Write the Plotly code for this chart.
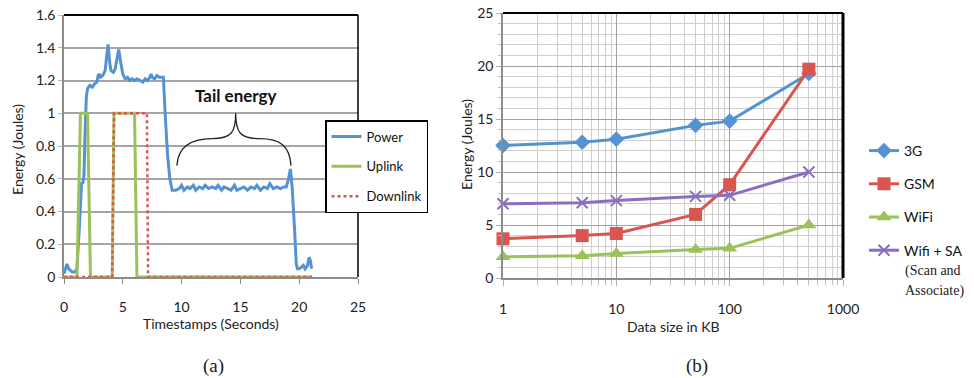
import plotly.graph_objects as go

W, H = 974, 378

# ---------------- data: panel (a) ----------------
t_power = [0, 0.15, 0.25, 0.4, 0.55, 0.7, 0.9, 1.1, 1.3, 1.5, 1.6, 1.7, 1.8, 1.9, 2.0, 2.2, 2.4,
           2.6, 2.8, 2.9, 3.0, 3.1, 3.3, 3.5, 3.6, 3.75, 3.9, 4.0, 4.2, 4.35, 4.5, 4.65, 4.8,
           5.0, 5.2, 5.4, 5.6, 5.8, 6.0, 6.2, 6.5, 6.7, 6.9, 7.1, 7.3, 7.4, 7.5, 7.7, 7.9,
           8.1, 8.3, 8.45, 8.6, 8.8, 9.0, 9.2, 9.5, 9.8, 10.0, 10.2, 10.5, 10.7, 11.0, 11.2,
           11.5, 11.8, 12.0, 12.3, 12.6, 12.9, 13.1, 13.4, 13.6, 13.9, 14.2, 14.5, 14.7, 15.0,
           15.3, 15.6, 15.9, 16.2, 16.4, 16.7, 17.0, 17.3, 17.5, 17.8, 18.1, 18.4, 18.7, 18.9,
           19.1, 19.25, 19.4, 19.6, 19.75, 19.85, 20.0, 20.2, 20.35, 20.5, 20.7, 20.85, 20.95,
           21.05]
power = [0.02, 0.06, 0.08, 0.05, 0.04, 0.03, 0.03, 0.05, 0.30, 0.58, 0.57, 0.62, 0.90, 1.10,
         1.15, 1.17, 1.16, 1.18, 1.19, 1.23, 1.24, 1.22, 1.23, 1.26, 1.33, 1.42, 1.30, 1.26,
         1.25, 1.27, 1.33, 1.39, 1.32, 1.24, 1.21, 1.22, 1.20, 1.21, 1.20, 1.21, 1.20, 1.19,
         1.21, 1.20, 1.22, 1.24, 1.22, 1.21, 1.23, 1.22, 1.22, 1.22, 1.00, 0.75, 0.60, 0.53,
         0.53, 0.54, 0.56, 0.53, 0.55, 0.54, 0.56, 0.53, 0.55, 0.54, 0.56, 0.54, 0.55, 0.54,
         0.56, 0.53, 0.55, 0.54, 0.53, 0.56, 0.53, 0.54, 0.55, 0.53, 0.55, 0.54, 0.56, 0.53,
         0.55, 0.54, 0.57, 0.54, 0.55, 0.54, 0.55, 0.55, 0.60, 0.66, 0.55, 0.30, 0.08, 0.05,
         0.05, 0.06, 0.07, 0.05, 0.07, 0.12, 0.10, 0.05]

t_uplink = [0, 1.1, 1.4, 2.0, 2.25, 4.1, 4.25, 6.0, 6.2, 21.1]
uplink = [0, 0, 1, 1, 0, 0, 1, 1, 0, 0]

t_downlink = [0, 4.1, 4.25, 7.05, 7.15, 21.1]
downlink = [0, 0, 1, 1, 0, 0]

# ---------------- data: panel (b) ----------------
data_kb = [1, 5, 10, 50, 100, 500]
e_3g = [12.5, 12.8, 13.1, 14.4, 14.8, 19.3]
e_gsm = [3.7, 4.0, 4.2, 6.0, 8.8, 19.7]
e_wifi = [2.0, 2.1, 2.3, 2.7, 2.8, 5.0]
e_wifi_sa = [7.0, 7.1, 7.3, 7.7, 7.8, 10.0]

FONT = "Lato"
BLUE = "#5592d2"
GREEN = "#9bc25a"
RED = "#d9554f"
PURPLE = "#8a6fbe"


def px(x):
    return x / W


def py(y):
    return 1 - y / H


fig = go.Figure()

# panel (a)
fig.add_trace(go.Scatter(x=t_power, y=power, mode="lines", name="Power",
                         line=dict(color=BLUE, width=3), xaxis="x", yaxis="y",
                         legend="legend", legendgroup="p"))
fig.add_trace(go.Scatter(x=t_uplink, y=uplink, mode="lines", name="Uplink",
                         line=dict(color=GREEN, width=3), xaxis="x", yaxis="y",
                         legend="legend", legendgroup="u"))
fig.add_trace(go.Scatter(x=t_downlink, y=downlink, mode="lines", name="Downlink",
                         line=dict(color=RED, width=2.5, dash="dot"), xaxis="x", yaxis="y",
                         legend="legend", legendgroup="d"))

# panel (b)
series_b = [
    ("3G", e_3g, BLUE, dict(symbol="diamond", size=12, color=BLUE)),
    ("GSM", e_gsm, RED, dict(symbol="square", size=13, color=RED)),
    ("WiFi", e_wifi, GREEN, dict(symbol="triangle-up", size=13, color=GREEN)),
    ("Wifi + SA", e_wifi_sa, PURPLE, dict(symbol="x-thin", size=11, color=PURPLE,
                                           line=dict(color=PURPLE, width=2))),
]
for i, (nm, vals, col, mk) in enumerate(series_b):
    fig.add_trace(go.Scatter(x=data_kb, y=vals, mode="lines+markers", name=nm,
                             line=dict(color=col, width=3), marker=mk,
                             xaxis="x2", yaxis="y2", cliponaxis=False,
                             legend="legend2", legendgroup="g%d" % i))

GRID = "#a6a6a6"
AXIS = "#8c8c8c"
tickfont = dict(family=FONT, size=14, color="#222")

fig.update_layout(
    width=W, height=H,
    margin=dict(l=0, r=0, t=0, b=0, autoexpand=False),
    paper_bgcolor="white", plot_bgcolor="white",
    font=dict(family=FONT, size=14, color="#222"),
    xaxis=dict(domain=[px(64), px(358)], range=[0, 25], tickvals=[0, 5, 10, 15, 20, 25],
               showgrid=False, zeroline=False, showline=True, linecolor=AXIS, linewidth=1.5,
               ticks="outside", ticklen=5, tickcolor=AXIS, tickfont=tickfont,
               ticklabelstandoff=11, anchor="y", automargin=False),
    yaxis=dict(domain=[py(277), py(15)], range=[0, 1.6], dtick=0.2,
               showgrid=True, gridcolor=GRID, gridwidth=1.5, zeroline=False,
               showline=True, linecolor=AXIS, linewidth=1.5,
               ticks="outside", ticklen=4, tickcolor="#bbbbbb", tickfont=tickfont, anchor="x",
               automargin=False),
    xaxis2=dict(domain=[px(503), px(843)], type="log", range=[0, 3],
                tickvals=[1, 10, 100, 1000], ticktext=["1", "10", "100", "1000"],
                showgrid=True, gridcolor="#a0a0a0", gridwidth=1.3, zeroline=False,
                showline=True, linecolor=AXIS, linewidth=1.5,
                ticks="outside", ticklen=6, tickcolor="#b0b0b0", tickfont=tickfont,
                ticklabelstandoff=11, anchor="y2", automargin=False,
                minor=dict(tickvals=[2, 3, 4, 5, 6, 7, 8, 9, 20, 30, 40, 50, 60, 70, 80, 90,
                                     200, 300, 400, 500, 600, 700, 800, 900],
                           showgrid=True, gridcolor="#cfcfcf", gridwidth=1,
                           ticks="outside", ticklen=5, tickcolor="#c0c0c0")),
    yaxis2=dict(domain=[py(278), py(13)], range=[0, 25], dtick=5,
                showgrid=True, gridcolor="#a0a0a0", gridwidth=1.3, zeroline=False,
                showline=True, linecolor=AXIS, linewidth=1.5,
                ticks="outside", ticklen=5, tickcolor="#b0b0b0", tickfont=tickfont,
                anchor="x2", automargin=False,
                minor=dict(dtick=1, showgrid=True, gridcolor="#cfcfcf", gridwidth=1,
                           ticks="outside", ticklen=3, tickcolor="#c0c0c0")),
    legend=dict(x=px(325), y=py(120), xanchor="left", yanchor="top",
                bgcolor="white", bordercolor="black", borderwidth=1.5,
                font=dict(family=FONT, size=13, color="#111"),
                traceorder="grouped", tracegroupgap=10, itemwidth=30),
    legend2=dict(x=px(864), y=py(135), xanchor="left", yanchor="top",
                 bgcolor="rgba(0,0,0,0)", borderwidth=0,
                 font=dict(family=FONT, size=14, color="#111"),
                 traceorder="grouped", tracegroupgap=12, itemwidth=30),
    showlegend=True,
)

# plot-area borders (top and right, black)
shapes = [
    dict(type="line", xref="paper", yref="paper", x0=px(64), x1=px(358), y0=py(15), y1=py(15),
         line=dict(color="black", width=2)),
    dict(type="line", xref="paper", yref="paper", x0=px(358), x1=px(358), y0=py(15), y1=py(277),
         line=dict(color="black", width=1.5)),
    dict(type="line", xref="paper", yref="paper", x0=px(503), x1=px(843), y0=py(13), y1=py(13),
         line=dict(color="black", width=2)),
    dict(type="line", xref="paper", yref="paper", x0=px(843), x1=px(843), y0=py(13), y1=py(278),
         line=dict(color="black", width=3)),
    # curly brace over the tail region
    dict(type="path", xref="x", yref="y",
         path="M 9.6,0.68 C 9.7,0.80 10.8,0.845 12.6,0.845 C 14.2,0.845 14.6,0.88 14.6,1.0 "
              "C 14.6,0.88 15.0,0.845 16.6,0.845 C 18.4,0.845 19.2,0.80 19.3,0.68",
         line=dict(color="#222", width=1.3)),
]
fig.update_layout(shapes=shapes)


def ann(text, x, y, size=14, family=FONT, xanchor="center", angle=0, ref="paper"):
    return dict(text=text, x=x, y=y, xref=ref if ref != "paper" else "paper",
                yref=("y" if ref == "x" else "paper"), showarrow=False,
                xanchor=xanchor, yanchor="middle", textangle=angle,
                font=dict(family=family, size=size, color="#222"))


annotations = [
    dict(text="<b>Tail energy</b>", x=14.6, y=1.11, xref="x", yref="y", showarrow=False,
         xanchor="center", yanchor="middle", font=dict(family=FONT, size=17, color="#111")),
    ann("Energy (Joules)", px(18), py(150), angle=-90),
    ann("Energy (Joules)", px(466), py(145), angle=-90),
    ann("Timestamps (Seconds)", px(211), py(323)),
    ann("Data size in KB", px(673), py(326)),
    ann("(Scan and", px(903), py(271), family="Liberation Serif", xanchor="left"),
    ann("Associate)", px(903), py(291), family="Liberation Serif", xanchor="left"),
    ann("(a)", px(213), py(366), size=19, family="Liberation Serif"),
    ann("(b)", px(697), py(366), size=19, family="Liberation Serif"),
]
fig.update_layout(annotations=annotations)

fig.write_html("out.html")
